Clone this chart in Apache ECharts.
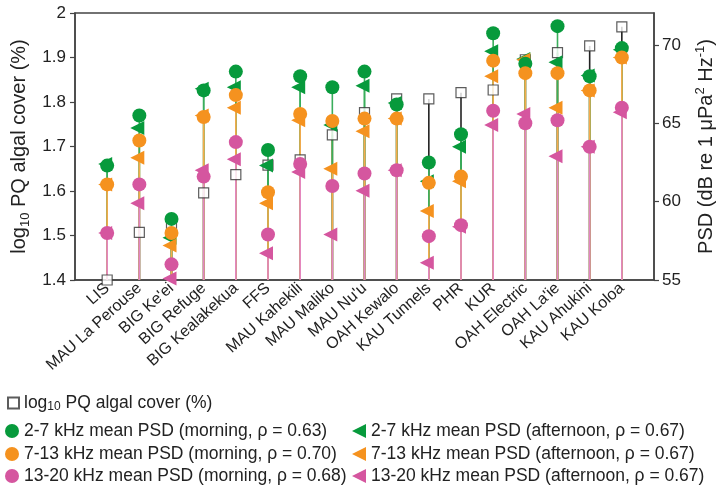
<!DOCTYPE html>
<html>
<head>
<meta charset="utf-8">
<script src="https://cdn.jsdelivr.net/npm/echarts@6/dist/echarts.min.js"></script>
<style>html,body{margin:0;padding:0;background:#fff}#c{width:724px;height:488px}</style>
</head>
<body>
<div id="c"></div>
<script>
const sites = ['LIS','MAU La Perouse',"BIG Ke'ei",'BIG Refuge','BIG Kealakekua','FFS','MAU Kahekili','MAU Maliko',"MAU Nu'u",'OAH Kewalo','KAU Tunnels','PHR','KUR','OAH Electric',"OAH La'ie",'KAU Ahukini','KAU Koloa'];
const algalCover = [1.40,1.507,1.525,1.596,1.637,1.658,1.670,1.726,1.776,1.807,1.807,1.821,1.827,1.895,1.911,1.926,1.969];
const greenMorning = [62.3,65.5,58.9,67.1,68.3,63.3,68.0,67.3,68.3,66.2,62.5,64.3,70.75,68.8,71.2,68.0,69.8];
const orangeMorning = [61.1,63.9,58.0,65.4,66.8,60.6,65.6,65.15,65.3,65.3,61.2,61.6,69.0,68.2,68.2,67.1,69.2];
const pinkMorning = [58.0,61.1,56.0,61.6,63.8,57.9,62.4,61.0,61.8,62.0,57.8,58.5,65.8,65.0,65.2,63.5,66.0];
const greenAfternoon = [62.4,64.7,57.7,67.2,67.3,62.3,67.3,64.9,67.4,66.3,61.3,63.5,69.6,69.1,68.9,68.05,69.7];
const orangeAfternoon = [61.1,62.8,57.2,65.5,66.0,59.9,65.2,62.1,64.5,65.3,59.4,61.3,68.0,69.05,66.0,67.1,69.2];
const pinkAfternoon = [58.0,59.9,55.1,62.0,62.7,56.7,61.9,57.9,60.7,62.0,56.1,58.4,64.9,65.6,62.9,63.5,65.7];
const leftTicks = [1.4,1.5,1.6,1.7,1.8,1.9,2];
const rightTicks = [55,60,65,70];
const seriesNames = {
  algal: 'log10 PQ algal cover (%)',
  gm: '2-7 kHz mean PSD (morning, ρ = 0.63)',
  om: '7-13 kHz mean PSD (morning, ρ = 0.70)',
  pm: '13-20 kHz mean PSD (morning, ρ = 0.68)',
  ga: '2-7 kHz mean PSD (afternoon, ρ = 0.67)',
  oa: '7-13 kHz mean PSD (afternoon, ρ = 0.67)',
  pa: '13-20 kHz mean PSD (afternoon, ρ = 0.67)'
};

const GREEN = '#079a3c', ORANGE = '#f5921f', PINK = '#d5569f';
const GREEN_L = '#3aae5c', ORANGE_L = '#f6ab4c', PINK_L = '#e385c3';
const LMIN = 1.4, LMAX = 2, RMIN = 55, RMAX = 72.04;
const AX = '#444';
const FONT = "'Liberation Sans', Arial, sans-serif";
const TRI_LEFT = 'path://M0,50 L100,0 L100,100 Z';

const cats = [''].concat(sites, ['']);
function pts(arr){ return arr.map((v,i)=>[i+1, v]); }

function stem(name, arr, axisIdx, color){
  const base = axisIdx === 0 ? LMIN : RMIN;
  return {
    type: 'custom', name: name, yAxisIndex: axisIdx, silent: true, clip: true,
    data: pts(arr),
    renderItem: function(params, api){
      const x = api.value(0), y = api.value(1);
      const p1 = api.coord([x, y]);
      const p0 = api.coord([x, base]);
      return {type:'line', shape:{x1:p0[0], y1:p0[1], x2:p1[0], y2:p1[1]}, style:{stroke:color, lineWidth:1.6}};
    }
  };
}
function scat(name, arr, axisIdx, color, symbol){
  const s = {
    type: 'scatter', name: name, yAxisIndex: axisIdx, data: pts(arr),
    symbol: symbol, symbolSize: symbol === 'rect' ? 10 : 14,
    itemStyle: {color: color, opacity: 1}
  };
  if (symbol === 'triangle') { s.symbol = TRI_LEFT; s.symbolSize = [14,14]; s.symbolOffset = [-2,0]; }
  if (symbol === 'rect') { s.itemStyle = {color:'#fff', borderColor:'#333', borderWidth:1.2}; }
  return s;
}

const chart = echarts.init(document.getElementById('c'), null, {renderer:'canvas'});
const nameRich = {
  a: {fontSize: 20, fontFamily: FONT, color: '#222', lineHeight: 24},
  s: {fontSize: 13, fontFamily: FONT, color: '#222', lineHeight: 14, verticalAlign: 'bottom'},
  sup: {fontSize: 13, fontFamily: FONT, color: '#222', lineHeight: 14, verticalAlign: 'top'}
};
const legRich = {
  a: {fontSize: 17.5, fontFamily: FONT, color: '#222', lineHeight: 20},
  s: {fontSize: 12, fontFamily: FONT, color: '#222', lineHeight: 12, verticalAlign: 'bottom'}
};
const legFormatter = function(name){
  if (name === seriesNames.algal) return '{a|log}{s|10}{a| PQ algal cover (%)}';
  return '{a|' + name + '}';
};
function leg(name, left, rowY, size, icon){
  const l = {data: [name], left: left, top: rowY - 10, padding: 0, itemWidth: size, itemHeight: size,
          itemGap: 0, formatter: legFormatter, textStyle: {rich: legRich}};
  if (icon) l.icon = icon;
  return l;
}

chart.setOption({
  animation: false,
  backgroundColor: '#fff',
  grid: {left: 75, right: 67, top: 13, bottom: 208, show: true, borderColor: AX, borderWidth: 1.5, backgroundColor: 'transparent'},
  xAxis: {
    type: 'category', data: cats, boundaryGap: false,
    axisLine: {lineStyle: {color: AX, width: 1.5}},
    axisTick: {show: false},
    axisLabel: {interval: 0, rotate: 42, fontSize: 16, fontFamily: FONT, color: '#222', margin: 6}
  },
  yAxis: [
    {
      type: 'value', min: LMIN, max: LMAX, interval: 0.1, position: 'left',
      name: '{a|log}{s|10}{a| PQ algal cover (%)}', nameLocation: 'middle', nameRotate: 90, nameGap: 43,
      nameTextStyle: {rich: nameRich},
      axisLine: {show: true, lineStyle: {color: AX, width: 1.5}},
      axisTick: {show: true, length: 5, lineStyle: {color: AX, width: 1.2}},
      axisLabel: {fontSize: 17, fontFamily: FONT, color: '#222', margin: 9, customValues: leftTicks},
      splitLine: {show: false}
    },
    {
      type: 'value', min: RMIN, max: RMAX, interval: 5, position: 'right',
      name: '{a|PSD (dB re 1 μPa}{sup|2}{a| Hz}{sup|-1}{a|)}', nameLocation: 'middle', nameRotate: 90, nameGap: 40,
      nameTextStyle: {rich: nameRich},
      axisLine: {show: true, lineStyle: {color: AX, width: 1.5}},
      axisTick: {show: true, length: 5, lineStyle: {color: AX, width: 1.2}, customValues: rightTicks},
      axisLabel: {fontSize: 17, fontFamily: FONT, color: '#222', margin: 8, customValues: rightTicks},
      splitLine: {show: false}
    }
  ],
  legend: [
    leg(seriesNames.algal, 7, 404, 11),
    leg(seriesNames.gm, 5, 432, 14),
    leg(seriesNames.om, 5, 455, 14),
    leg(seriesNames.pm, 5, 477, 14),
    leg(seriesNames.ga, 352, 432, 14, TRI_LEFT),
    leg(seriesNames.oa, 352, 455, 14, TRI_LEFT),
    leg(seriesNames.pa, 352, 477, 14, TRI_LEFT)
  ],
  series: [
    stem('s_algal', algalCover, 0, '#222'),
    stem('s_gm', greenMorning, 1, GREEN_L),
    stem('s_om', orangeMorning, 1, ORANGE_L),
    stem('s_pm', pinkMorning, 1, PINK_L),
    stem('s_ga', greenAfternoon, 1, GREEN_L),
    stem('s_oa', orangeAfternoon, 1, ORANGE_L),
    stem('s_pa', pinkAfternoon, 1, PINK_L),
    scat(seriesNames.algal, algalCover, 0, '#fff', 'rect'),
    scat(seriesNames.ga, greenAfternoon, 1, GREEN, 'triangle'),
    scat(seriesNames.oa, orangeAfternoon, 1, ORANGE, 'triangle'),
    scat(seriesNames.pa, pinkAfternoon, 1, PINK, 'triangle'),
    scat(seriesNames.gm, greenMorning, 1, GREEN, 'circle'),
    scat(seriesNames.om, orangeMorning, 1, ORANGE, 'circle'),
    scat(seriesNames.pm, pinkMorning, 1, PINK, 'circle')
  ]
});
</script>
</body>
</html>
